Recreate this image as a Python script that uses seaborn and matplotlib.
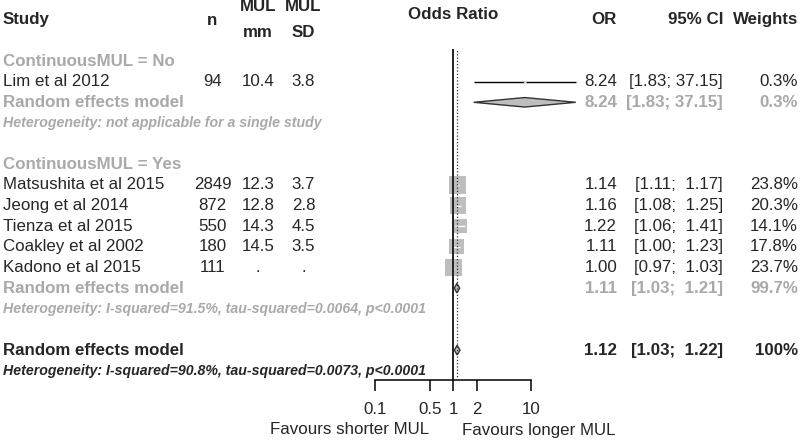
import numpy as np
import matplotlib
matplotlib.use("Agg")
import matplotlib.pyplot as plt
import matplotlib.transforms as mtransforms
from matplotlib.ticker import NullLocator
import seaborn as sns

# --------------------------------------------------------------------------------
# Dados da meta-análise
# --------------------------------------------------------------------------------
study_names = ["Lim et al 2012", "Matsushita et al 2015", "Jeong et al 2014",
               "Tienza et al 2015", "Coakley et al 2002", "Kadono et al 2015"]
study_group = ["No", "Yes", "Yes", "Yes", "Yes", "Yes"]
study_n = [94, 2849, 872, 550, 180, 111]
mul_mm = ["10.4", "12.3", "12.8", "14.3", "14.5", "."]
mul_sd = ["3.8", "3.7", "2.8", "4.5", "3.5", "."]
study_or = [8.24, 1.14, 1.16, 1.22, 1.11, 1.00]
study_lo = [1.83, 1.11, 1.08, 1.06, 1.00, 0.97]
study_hi = [37.15, 1.17, 1.25, 1.41, 1.23, 1.03]
study_w = [0.3, 23.8, 20.3, 14.1, 17.8, 23.7]

group_labels = ["No", "Yes"]
group_or = [8.24, 1.11]
group_lo = [1.83, 1.03]
group_hi = [37.15, 1.21]
group_w = [0.3, 99.7]
group_het = ["Heterogeneity: not applicable for a single study",
             "Heterogeneity: I-squared=91.5%, tau-squared=0.0064, p<0.0001"]

overall_or = 1.12
overall_lo = 1.03
overall_hi = 1.22
overall_w = 100
overall_het = "Heterogeneity: I-squared=90.8%, tau-squared=0.0073, p<0.0001"

x_ticks = [0.1, 0.5, 1, 2, 10]
x_tick_labels = ["0.1", "0.5", "1", "2", "10"]
label_left = "Favours shorter MUL"
label_right = "Favours longer MUL"

# --------------------------------------------------------------------------------
# Layout
# --------------------------------------------------------------------------------
W, H = 800, 443
X0_PX, DEC_PX = 453.3, 78.0       # pixel do OR=1 e pixels por década
ROW0_PX, ROW_PX = 61.0, 20.65     # primeira linha e altura de linha
XLOG_MIN, XLOG_MAX = -1.1, 1.7
TOP_PX, BOTTOM_PX = 49.0, 380.0

GRAY_TXT = "#a9a9a9"
GRAY_BOX = "#bebebe"
FS = 12.2
FS_HET = 10.2
SQ_MAX_PX = 17.5

sns.set_style("white")
plt.rcParams["font.family"] = ["Liberation Sans", "DejaVu Sans"]

fig = plt.figure(figsize=(W / 100, H / 100), dpi=100)
left_px = X0_PX + DEC_PX * XLOG_MIN
right_px = X0_PX + DEC_PX * XLOG_MAX
ax = fig.add_axes([left_px / W, 1 - BOTTOM_PX / H,
                   (right_px - left_px) / W, (BOTTOM_PX - TOP_PX) / H])
ax.set_xscale("log")
ax.set_xlim(10 ** XLOG_MIN, 10 ** XLOG_MAX)
ax.set_ylim((BOTTOM_PX - ROW0_PX) / ROW_PX, (TOP_PX - ROW0_PX) / ROW_PX)

# linhas de cada elemento
study_rows = [0] * len(study_names)
header_rows, sub_rows, het_rows = [], [], []
row = 0
for label in group_labels:
    header_rows.append(row)
    row += 1
    for i, g in enumerate(study_group):
        if g == label:
            study_rows[i] = row
            row += 1
    sub_rows.append(row)
    het_rows.append(row + 1)
    row += 3
overall_row = row
overall_het_row = row + 1

# --------------------------------------------------------------------------------
# Marcas do forest plot
# --------------------------------------------------------------------------------
ax.hlines(study_rows, study_lo, study_hi, color="black", lw=1.0, zorder=2)

sq_area = (SQ_MAX_PX * 0.72) ** 2
sns.scatterplot(x=study_or, y=study_rows, size=study_w, sizes=(0, sq_area),
                size_norm=(0, max(study_w)), marker="s", color=GRAY_BOX,
                linewidth=0, legend=False, ax=ax, zorder=3)

# parte do IC dentro do quadrado em branco
for est, lo, hi, w, r in zip(study_or, study_lo, study_hi, study_w, study_rows):
    half = SQ_MAX_PX * np.sqrt(w / max(study_w)) / 2 / DEC_PX
    a = max(lo, est * 10 ** -half)
    b = min(hi, est * 10 ** half)
    if b > a:
        ax.hlines(r, a, b, color="white", lw=1.0, zorder=3.5)

DH = 0.23
def diamond(est, lo, hi, r):
    ax.fill([lo, est, hi, est], [r, r - DH, r, r + DH], facecolor=GRAY_BOX,
            edgecolor="#333333", lw=1.0, zorder=4)

for est, lo, hi, r in zip(group_or, group_lo, group_hi, sub_rows):
    diamond(est, lo, hi, r)
diamond(overall_or, overall_lo, overall_hi, overall_row)

ax.axvline(1, color="#222222", lw=1.4, zorder=5)
ax.axvline(overall_or, color="#333333", lw=0.9, ls=(0, (1, 1.6)), zorder=5)

for s in ["left", "top", "right"]:
    ax.spines[s].set_visible(False)
ax.spines["bottom"].set_bounds(x_ticks[0], x_ticks[-1])
ax.spines["bottom"].set_linewidth(1.1)
ax.spines["bottom"].set_color("black")
ax.set_yticks([])
ax.set_xticks(x_ticks)
ax.set_xticklabels(x_tick_labels)
ax.xaxis.set_minor_locator(NullLocator())
ax.tick_params(axis="x", bottom=True, length=7.9, width=1.1, pad=8,
               labelsize=FS, direction="out", color="black")
ax.set_xlabel("")

fig.text(429 / W, 1 - 430 / H, label_left, ha="right", va="center", fontsize=FS)
fig.text(462 / W, 1 - 430 / H, label_right, ha="left", va="center", fontsize=FS)

# --------------------------------------------------------------------------------
# Colunas de texto
# --------------------------------------------------------------------------------
trans = mtransforms.blended_transform_factory(fig.transFigure, ax.transData)

def put(xpx, r, s, ha="center", **kw):
    kw.setdefault("fontsize", FS)
    ax.text(xpx / W, r, s, transform=trans, ha=ha, va="center", clip_on=False, **kw)

COL_STUDY, COL_N, COL_MM, COL_SD = 3, 212.5, 258, 303.5
COL_OR, COL_CI, COL_W = 617, 723, 798

def fmt_ci(lo, hi):
    return f"[{lo:4.2f}; {hi:5.2f}]"

def fmt_w(w):
    return "100%" if w == 100 else f"{w:.1f}%"

# cabeçalho
put(COL_STUDY, -2.0, "Study", ha="left", weight="bold")
put(COL_N, -1.98, "n", weight="bold")
put(COL_MM, -2.66, "MUL", weight="bold")
put(COL_MM, -1.40, "mm", weight="bold")
put(COL_SD, -2.66, "MUL", weight="bold")
put(COL_SD, -1.40, "SD", weight="bold")
ax.text(1, -2.23, "Odds Ratio", ha="center", va="center", fontsize=FS,
        weight="bold", clip_on=False)
put(COL_OR, -1.99, "OR", ha="right", weight="bold")
put(COL_CI, -2.02, "95% CI", ha="right", weight="bold")
put(COL_W, -2.02, "Weights", ha="right", weight="bold")

for label, r in zip(group_labels, header_rows):
    put(COL_STUDY, r, f"ContinuousMUL = {label}", ha="left", weight="bold", color=GRAY_TXT)

for i, r in enumerate(study_rows):
    put(COL_STUDY, r, study_names[i], ha="left")
    put(COL_N, r, str(study_n[i]))
    put(COL_MM, r, mul_mm[i])
    put(COL_SD, r, mul_sd[i])
    put(COL_OR, r, f"{study_or[i]:.2f}", ha="right")
    put(COL_CI, r, fmt_ci(study_lo[i], study_hi[i]), ha="right")
    put(COL_W, r, fmt_w(study_w[i]), ha="right")

for g, r in enumerate(sub_rows):
    kw = dict(weight="bold", color=GRAY_TXT)
    put(COL_STUDY, r, "Random effects model", ha="left", **kw)
    put(COL_OR, r, f"{group_or[g]:.2f}", ha="right", **kw)
    put(COL_CI, r, fmt_ci(group_lo[g], group_hi[g]), ha="right", **kw)
    put(COL_W, r, fmt_w(group_w[g]), ha="right", **kw)
    put(COL_STUDY, het_rows[g], group_het[g], ha="left", weight="bold",
        style="italic", color=GRAY_TXT, fontsize=FS_HET)

put(COL_STUDY, overall_row, "Random effects model", ha="left", weight="bold")
put(COL_OR, overall_row, f"{overall_or:.2f}", ha="right", weight="bold")
put(COL_CI, overall_row, fmt_ci(overall_lo, overall_hi), ha="right", weight="bold")
put(COL_W, overall_row, fmt_w(overall_w), ha="right", weight="bold")
put(COL_STUDY, overall_het_row, overall_het, ha="left", weight="bold",
    style="italic", fontsize=FS_HET)

fig.savefig("out.png", dpi=100)
